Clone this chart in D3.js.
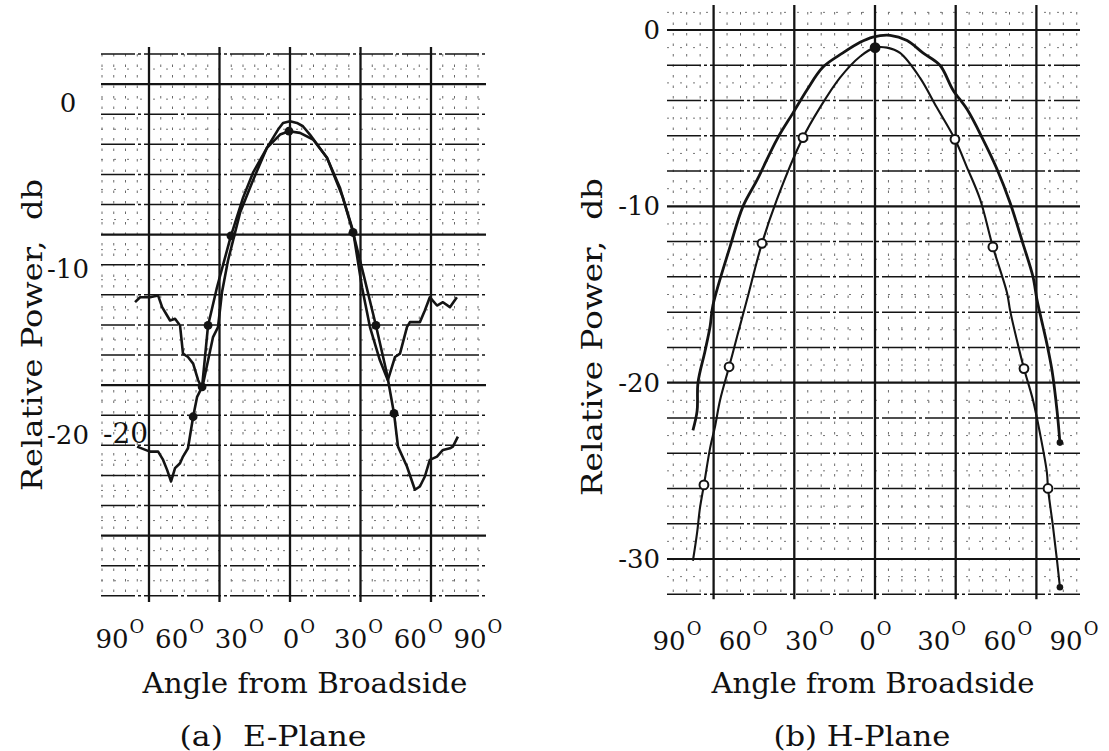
<!DOCTYPE html>
<html>
<head>
<meta charset="utf-8">
<script src="https://cdn.jsdelivr.net/npm/d3@7"></script>
<style>
  html, body { margin: 0; padding: 0; background: #fff; }
  svg { display: block; }
  text { font-family: "DejaVu Serif", "Liberation Serif", serif; fill: #111; white-space: pre; }
</style>
</head>
<body>
<svg id="chart" width="1109" height="751"></svg>
<script>
// ---------------- DATA ----------------
const angleTicks = [-90, -60, -30, 0, 30, 60, 90];
const angleTickLabels = ["90", "60", "30", "0", "30", "60", "90"];
const eDbTicks = [0, -10, -20];
const hDbTicks = [0, -10, -20, -30];

// (a) E-Plane : trace with dots (wider main lobe, deep outer null)
const eAngleA = [-77.4, -70.9, -66.8, -64.3, -62.3, -60.3, -58.3, -55.8, -54.3, -51.8, -49.2, -47.2, -44.7, -41.7, -37.2, -30.2, -24.1, -19.1, -12.1, -5.5, -1.0, 4.5, 11.1, 18.1, 24.6, 31.2, 36.2, 42.7, 48.2, 51.8, 53.8, 58.3, 62.3, 64.8, 67.3, 69.8, 73.4, 76.4, 79.9, 81.4, 83.9];
const eDbA    = [-20.7, -21.0, -21.0, -21.5, -22.1, -22.8, -22.0, -21.7, -21.3, -20.8, -18.9, -17.7, -17.1, -13.4, -11.1, -8.0, -5.7, -4.2, -2.7, -1.9, -1.7, -1.8, -2.2, -3.3, -5.1, -7.8, -10.2, -13.4, -16.3, -18.7, -20.7, -21.9, -23.3, -23.1, -22.5, -21.5, -21.3, -20.9, -20.8, -20.7, -20.1];
const eDotAngle = [-49.2, -44.7, -41.7, -30.2, -1.0, 31.2, 42.7, 51.8];
const eDotDb    = [-18.9, -17.1, -13.4, -8.0, -1.7, -7.8, -13.4, -18.7];

// (a) E-Plane : jagged trace (narrower main lobe, about -12 db side lobes)
const eAngleB = [-78.4, -75.9, -70.9, -66.8, -64.8, -62.3, -60.8, -58.3, -55.8, -54.3, -51.8, -49.2, -46.7, -44.7, -39.2, -36.7, -34.7, -31.7, -25.6, -19.6, -12.1, -6.5, -4.0, -0.5, 3.0, 6.0, 9.5, 18.1, 26.1, 31.2, 35.7, 39.7, 44.7, 48.7, 52.3, 54.8, 58.3, 59.8, 64.8, 67.3, 69.8, 73.4, 76.4, 79.9, 83.4];
const eDbB    = [-12.0, -11.7, -11.7, -11.6, -12.3, -12.8, -13.1, -13.0, -13.4, -15.1, -15.3, -15.7, -16.7, -17.2, -14.1, -13.5, -11.4, -9.5, -6.6, -4.8, -2.7, -1.6, -1.2, -1.1, -1.2, -1.4, -1.9, -3.3, -5.7, -7.7, -11.1, -13.5, -15.5, -16.7, -15.3, -15.1, -13.5, -13.2, -13.2, -12.5, -11.7, -12.2, -12.0, -12.3, -11.7];

// (b) H-Plane : outer (broader) trace
const hAngleA = [-79.2, -77.3, -76.9, -73.7, -71.4, -70.1, -62.4, -56.5, -50.1, -41.1, -33.8, -27.5, -20.2, -11.2, -3.4, 2.4, 10.2, 17.9, 25.1, 32.8, 38.7, 45.1, 52.3, 58.7, 64.6, 70.4, 75.0, 76.8, 79.5, 81.3, 83.6, 85.9, 87.2];
const hDbA    = [-22.7, -21.6, -20.0, -18.2, -16.8, -15.6, -12.3, -10.0, -8.5, -6.2, -4.7, -3.4, -2.1, -1.3, -0.7, -0.4, -0.3, -0.6, -1.3, -2.0, -3.4, -4.5, -6.2, -7.9, -9.8, -12.1, -14.0, -15.3, -16.8, -17.8, -19.3, -21.6, -23.4];

// (b) H-Plane : inner trace with circle markers
const hAngleB = [-79.2, -77.3, -76.0, -74.2, -71.4, -69.2, -66.9, -62.8, -59.2, -54.7, -47.9, -41.1, -29.3, -21.6, -12.5, -3.4, 3.4, 8.8, 14.7, 23.7, 31.4, 39.6, 45.1, 51.0, 56.8, 63.2, 64.6, 67.7, 70.9, 75.0, 78.2, 81.3, 81.8, 84.1, 85.9, 87.2];
const hDbB    = [-30.1, -28.5, -27.1, -25.8, -23.7, -22.5, -21.0, -19.1, -17.4, -15.3, -12.1, -9.6, -6.1, -4.4, -2.7, -1.5, -1.0, -1.0, -1.3, -2.7, -4.4, -6.2, -7.8, -9.6, -12.3, -14.9, -15.9, -17.6, -19.2, -21.0, -22.9, -25.1, -26.0, -28.2, -30.1, -31.6];
const hMarkAngle = [-74.2, -62.8, -47.9, -29.3, 3.4, 39.6, 56.8, 70.9, 81.8];
const hMarkDb    = [-25.8, -19.1, -12.1, -6.1, -1.0, -6.2, -12.3, -19.2, -26.0];
const hMarkFilled = [false, false, false, false, true, false, false, false, false];

const panelTitles = ["(a)  E-Plane", "(b) H-Plane"];
const xTitle = "Angle from Broadside";
const yTitle = "Relative Power,  db";

// ---------------- DRAWING ----------------
const svg = d3.select("#chart");
svg.append("rect").attr("width", 1109).attr("height", 751).attr("fill", "#fff");

const INK = "#141414";

function zip(a, b) { return a.map((v, i) => [v, b[i]]); }

// graph paper grid (the printed paper, independent of the data)
function paper(g, cfg) {
  const vx = d3.range(cfg.vMinor[0], cfg.vMinor[1] + 1).map(i => cfg.vx0 + cfg.vStep * i);
  g.selectAll("line.vmin").data(vx).join("line")
    .attr("x1", d => d).attr("x2", d => d)
    .attr("y1", cfg.top).attr("y2", cfg.bottom)
    .attr("stroke", "#6a6a6a").attr("stroke-width", 1)
    .attr("stroke-dasharray", "2.5,8");
  g.selectAll("line.hmin").data(cfg.hMinor).join("line")
    .attr("x1", cfg.left).attr("x2", cfg.right)
    .attr("y1", d => d).attr("y2", d => d)
    .attr("stroke", "#777").attr("stroke-width", 1)
    .attr("stroke-dasharray", "2,11");
  g.selectAll("line.h").data(cfg.hLines).join("line")
    .attr("x1", cfg.left).attr("x2", cfg.right)
    .attr("y1", d => d.y).attr("y2", d => d.y)
    .attr("stroke", INK).attr("stroke-width", d => d.heavy ? 2.1 : 1.5)
    .attr("stroke-dasharray", d => d.heavy ? null : "34,3,3,3");
  g.selectAll("line.vmaj").data(cfg.vMajor).join("line")
    .attr("x1", d => d).attr("x2", d => d)
    .attr("y1", cfg.top - 7).attr("y2", cfg.bottom + 5)
    .attr("stroke", INK).attr("stroke-width", 2.3);
}

// ---------- (a) E-Plane ----------
const eX = d3.scaleLinear().domain([-90, 90]).range([112, 470]);
const eY = d3.scaleLinear().domain([0, -20]).range([103, 435]);
const gE = svg.append("g");
{
  const y0 = 54, step = 30.1;
  const hLines = d3.range(0, 19).map(k => ({ y: y0 + step * k, heavy: k % 5 === 1 }));
  const hMinor = d3.range(0, 18).map(k => y0 + step * k + step / 2);
  paper(gE, {
    left: 101, right: 486, top: 54, bottom: 597,
    vx0: 290, vStep: 70.5 / 6, vMinor: [-16, 16],
    vMajor: [-2, -1, 0, 1, 2].map(k => 290 + 70.5 * k),
    hLines, hMinor
  });
  // label printed on the graph paper
  gE.append("text").attr("x", 103).attr("y", 443).attr("font-size", 28).text("-20");
}
const lineE = d3.line().x(d => eX(d[0])).y(d => eY(d[1])).curve(d3.curveLinear);
gE.append("path").datum(zip(eAngleB, eDbB)).attr("d", lineE)
  .attr("fill", "none").attr("stroke", INK).attr("stroke-width", 2.6).attr("stroke-linejoin", "round");
gE.append("path").datum(zip(eAngleA, eDbA)).attr("d", lineE)
  .attr("fill", "none").attr("stroke", INK).attr("stroke-width", 2.6).attr("stroke-linejoin", "round");
gE.selectAll("circle.dot").data(zip(eDotAngle, eDotDb)).join("circle")
  .attr("cx", d => eX(d[0])).attr("cy", d => eY(d[1])).attr("r", 4.4).attr("fill", INK);

// ---------- (b) H-Plane ----------
const hX = d3.scaleLinear().domain([-90, 90]).range([669.1, 1066.1]);
const hY = d3.scaleLinear().domain([0, -30]).range([30, 559]);
const gH = svg.append("g");
{
  const vals = d3.range(0, -33, -2);
  const hLines = vals.map(v => ({ y: hY(v), heavy: v % 10 === 0 }));
  const hMinor = vals.slice(0, -1).map(v => hY(v - 1)).concat([hY(1)]);
  paper(gH, {
    left: 667, right: 1080, top: 12, bottom: hY(-32),
    vx0: 875, vStep: 80.7 / 6, vMinor: [-15, 15],
    vMajor: [-2, -1, 0, 1, 2].map(k => 875 + 80.7 * k),
    hLines, hMinor
  });
}
const lineH = d3.line().x(d => hX(d[0])).y(d => hY(d[1])).curve(d3.curveCatmullRom.alpha(0.5));
gH.append("path").datum(zip(hAngleA, hDbA)).attr("d", lineH)
  .attr("fill", "none").attr("stroke", INK).attr("stroke-width", 2.8);
gH.append("path").datum(zip(hAngleB, hDbB)).attr("d", lineH)
  .attr("fill", "none").attr("stroke", INK).attr("stroke-width", 2.1);
gH.selectAll("circle.mk").data(hMarkAngle.map((a, i) => [a, hMarkDb[i], hMarkFilled[i]])).join("circle")
  .attr("cx", d => hX(d[0])).attr("cy", d => hY(d[1])).attr("r", 4.4)
  .attr("fill", d => d[2] ? INK : "#fff").attr("stroke", INK).attr("stroke-width", 2);
gH.selectAll("circle.end").data([[hAngleA.at(-1), hDbA.at(-1)], [hAngleB.at(-1), hDbB.at(-1)]]).join("circle")
  .attr("cx", d => hX(d[0])).attr("cy", d => hY(d[1])).attr("r", 3.3).attr("fill", INK);

// ---------- Axes text ----------
function angleLabels(g, x, baseY) {
  angleTicks.forEach((v, i) => {
    const t = g.append("text").attr("x", x(v)).attr("y", baseY)
      .attr("text-anchor", "middle").attr("font-size", 26).text(angleTickLabels[i]);
    const w = t.node().getComputedTextLength();
    g.append("text").attr("x", x(v) + w / 2 + 1).attr("y", baseY - 15)
      .attr("font-size", 18).attr("font-family", "DejaVu Sans").text("O");
  });
}
angleLabels(gE, eX, 648);
angleLabels(gH, hX, 650);

gE.selectAll("text.yt").data(eDbTicks).join("text")
  .attr("x", 68).attr("y", d => eY(d) + 9).attr("text-anchor", "middle")
  .attr("font-size", 26).text(d => d === 0 ? "0" : "-" + Math.abs(d));
gH.selectAll("text.yt").data(hDbTicks).join("text")
  .attr("x", 660).attr("y", d => hY(d) + 9).attr("text-anchor", "end")
  .attr("font-size", 26).text(d => d === 0 ? "0" : "-" + Math.abs(d));

gE.append("text").attr("x", 305).attr("y", 693).attr("text-anchor", "middle")
  .attr("font-size", 27).attr("textLength", 325).attr("lengthAdjust", "spacingAndGlyphs").text(xTitle);
gH.append("text").attr("x", 873).attr("y", 693).attr("text-anchor", "middle")
  .attr("font-size", 27).attr("textLength", 323).attr("lengthAdjust", "spacingAndGlyphs").text(xTitle);
gE.append("text").attr("transform", "translate(42,335) rotate(-90)").attr("text-anchor", "middle")
  .attr("font-size", 27).attr("textLength", 312).attr("lengthAdjust", "spacingAndGlyphs").text(yTitle);
gH.append("text").attr("transform", "translate(602,337) rotate(-90)").attr("text-anchor", "middle")
  .attr("font-size", 27).attr("textLength", 318).attr("lengthAdjust", "spacingAndGlyphs").text(yTitle);

gE.append("text").attr("x", 273).attr("y", 746).attr("text-anchor", "middle")
  .attr("font-size", 27).attr("textLength", 187).attr("lengthAdjust", "spacingAndGlyphs").text(panelTitles[0]);
gH.append("text").attr("x", 862).attr("y", 746).attr("text-anchor", "middle")
  .attr("font-size", 27).attr("textLength", 177).attr("lengthAdjust", "spacingAndGlyphs").text(panelTitles[1]);
</script>
</body>
</html>
